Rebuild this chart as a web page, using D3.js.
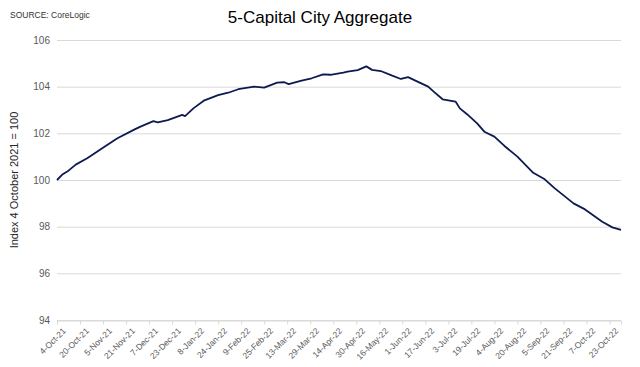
<!DOCTYPE html>
<html>
<head>
<meta charset="utf-8">
<script src="https://cdn.jsdelivr.net/npm/d3@7"></script>
<style>
  body { margin: 0; background: #fff; }
  text { font-family: "Liberation Sans", Arial, sans-serif; }
</style>
</head>
<body>
<div id="chart"></div>
<script>
// readings of the CoreLogic daily index (4 Oct 2021 = 100)
const dates = [
  "2021-10-04","2021-10-08","2021-10-12","2021-10-17","2021-10-25","2021-11-06","2021-11-15",
  "2021-11-27","2021-12-01","2021-12-10","2021-12-13","2021-12-20","2021-12-30",
  "2022-01-01","2022-01-07","2022-01-14","2022-01-24","2022-01-31","2022-02-07",
  "2022-02-18","2022-02-25","2022-03-06","2022-03-11","2022-03-14","2022-03-23",
  "2022-03-30","2022-04-07","2022-04-12","2022-04-21","2022-04-24","2022-05-01",
  "2022-05-07","2022-05-11","2022-05-17","2022-05-25","2022-05-31","2022-06-05",
  "2022-06-09","2022-06-19","2022-06-23","2022-06-29","2022-07-08","2022-07-11",
  "2022-07-16","2022-07-23","2022-07-28","2022-08-04","2022-08-11","2022-08-20",
  "2022-08-31","2022-09-08","2022-09-15","2022-09-28","2022-10-06","2022-10-18",
  "2022-10-25","2022-10-31"
];
const values = [
  100.00,100.25,100.40,100.66,100.93,101.43,101.79,
  102.17,102.29,102.52,102.47,102.57,102.79,
  102.74,103.08,103.40,103.64,103.74,103.89,
  104.00,103.96,104.17,104.19,104.11,104.26,
  104.36,104.53,104.51,104.60,104.64,104.71,
  104.87,104.72,104.67,104.47,104.33,104.41,
  104.29,104.00,103.78,103.46,103.36,103.07,
  102.82,102.43,102.07,101.86,101.46,101.00,
  100.31,100.03,99.64,99.00,98.74,98.21,
  97.97,97.86
];
const yTicks = [94, 96, 98, 100, 102, 104, 106];
const xTickStart = "2021-10-04";
const xTickStepDays = 16;
const xTickCount = 25;

const width = 640, height = 367;
const margin = {top: 40, right: 19, bottom: 47, left: 57};

const parse = d3.timeParse("%Y-%m-%d");
const data = dates.map((d, i) => ({date: parse(d), value: values[i]}));

const svg = d3.select("#chart").append("svg")
  .attr("width", width)
  .attr("height", height);

const x = d3.scaleTime()
  .domain(d3.extent(data, d => d.date))
  .range([margin.left, width - margin.right]);

const y = d3.scaleLinear()
  .domain([94, 106])
  .range([height - margin.bottom, margin.top]);

const xTickVals = d3.range(xTickCount).map(i => d3.timeDay.offset(parse(xTickStart), i * xTickStepDays));

// gridlines
svg.append("g")
  .selectAll("line")
  .data(yTicks)
  .enter()
  .append("line")
  .attr("x1", margin.left)
  .attr("x2", width - margin.right)
  .attr("y1", d => y(d) + 0.5)
  .attr("y2", d => y(d) + 0.5)
  .attr("stroke", "#d9d9d9")
  .attr("stroke-width", 1);

// y axis labels
const yAxis = d3.axisLeft(y).tickValues(yTicks).tickSize(0).tickPadding(7);
svg.append("g")
  .attr("transform", `translate(${margin.left},0)`)
  .call(yAxis)
  .call(g => g.select(".domain").remove())
  .selectAll("text")
  .attr("fill", "#595959")
  .style("font-size", "10px");

// x axis
const xAxis = d3.axisBottom(x)
  .tickValues(xTickVals)
  .tickSize(4)
  .tickFormat(d3.timeFormat("%-d-%b-%y"));

const gx = svg.append("g")
  .attr("transform", `translate(0,${y(94) + 0.5})`)
  .call(xAxis);
gx.select(".domain").attr("stroke", "#d9d9d9");
gx.selectAll(".tick line").attr("stroke", "#d9d9d9");
gx.selectAll("text")
  .attr("fill", "#595959")
  .style("font-size", "8.5px")
  .attr("text-anchor", "end")
  .attr("dx", 0)
  .attr("dy", 0)
  .attr("transform", "translate(4,6) rotate(-45)");

// line
const line = d3.line()
  .x(d => x(d.date))
  .y(d => y(d.value));

svg.append("path")
  .datum(data)
  .attr("fill", "none")
  .attr("stroke", "#0d1a4f")
  .attr("stroke-width", 1.8)
  .attr("stroke-linejoin", "round")
  .attr("d", line);

// titles
svg.append("text")
  .attr("x", 320)
  .attr("y", 23)
  .attr("text-anchor", "middle")
  .attr("fill", "#000")
  .style("font-size", "17px")
  .text("5-Capital City Aggregate");

svg.append("text")
  .attr("x", 10)
  .attr("y", 18)
  .attr("fill", "#333")
  .style("font-size", "8.5px")
  .text("SOURCE: CoreLogic");

svg.append("text")
  .attr("transform", `translate(18,${(y(94) + y(106)) / 2}) rotate(-90)`)
  .attr("text-anchor", "middle")
  .attr("fill", "#262626")
  .style("font-size", "11px")
  .text("Index 4 October 2021 = 100");
</script>
</body>
</html>
